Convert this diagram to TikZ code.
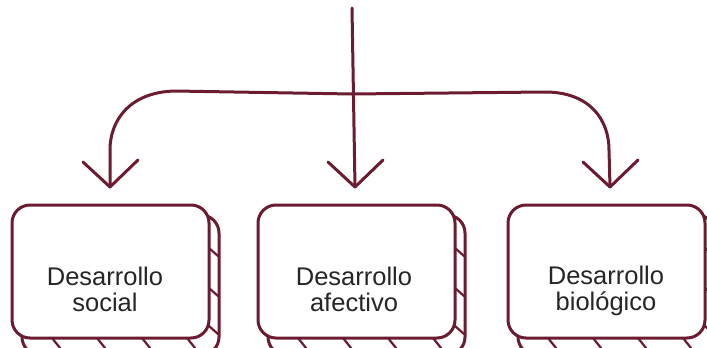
\documentclass[tikz,border=0pt]{standalone}
\usepackage{fontspec}
\setmainfont{Liberation Sans}
\definecolor{maroon}{RGB}{108,28,48}
\begin{document}
\begin{tikzpicture}[x=1pt,y=-1pt,
  ln/.style={draw=maroon,line width=3pt,line cap=round,line join=round},
  frontbox/.style={ln,fill=white,rounded corners=18pt},
  backbox/.style={ln,fill=white,rounded corners=18pt},
  lbl/.style={font=\fontsize{25.5}{26}\selectfont,align=center,text=black!85}]
\useasboundingbox (0,0) rectangle (707,348);
\foreach \n/\x/\dx/\dy/\t in {a/12/93/289/{Desarrollo\\social},b/258/96/289/{Desarrollo\\afectivo},c/508/98/291/{Desarrollo\\biológico}}{
  \begin{scope}
  \clip (0,0) rectangle (707,348);
  \draw[backbox] (\x+10,215) rectangle (\x+207,355);
  \foreach \yy in {248,288,326} \draw[ln,line width=2.2pt] (\x+197,\yy) -- (\x+206,\yy+8);
  \foreach \xx in {40,85,130,175} \draw[ln,line width=2.2pt] (\x+\xx,338) -- (\x+\xx+8,348);
  \draw[frontbox] (\x,205) rectangle (\x+197,338);
  \end{scope}
  \node[lbl] (\n) at (\x+\dx,\dy) {\t};
}
\coordinate (top) at (352,8);
\coordinate (tl) at (110,187);
\coordinate (tm) at (355,187);
\coordinate (tr) at (610,187);
\draw[ln] (top) -- (tm);
\draw[ln] (352,94) -- (175,91) .. controls (130,92) and (110,120) .. (110,150) -- (tl);
\draw[ln] (352,94) -- (545,92) .. controls (590,92) and (609,120) .. (609,150) -- (tr);
\foreach \p in {tl,tm,tr}
  \draw[ln] ([shift={(-27,-25)}]\p) -- (\p) -- ([shift={(28,-27)}]\p);
\end{tikzpicture}
\end{document}
